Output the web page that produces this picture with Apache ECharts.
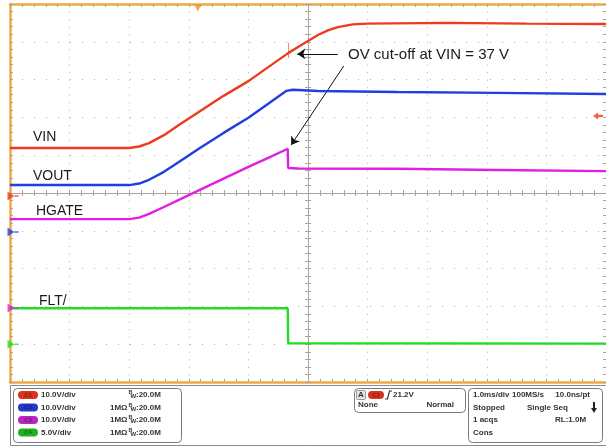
<!DOCTYPE html>
<html><head><meta charset="utf-8">
<script src="https://cdn.jsdelivr.net/npm/echarts@6/dist/echarts.min.js"></script>
<style>html,body{margin:0;padding:0;background:#fff;}#c{width:606px;height:448px;}</style>
</head><body><div id="c"></div>
<script>
// ---- Channel settings (scope readout) ----
const channelNames = ['VIN', 'VOUT', 'HGATE', 'FLT/'];
const voltsPerDiv = [10, 10, 10, 5];
const groundDiv = [-0.08, -1.03, -3.04, -4.0];   // ground markers, divisions from centre

// ---- Traces: time in ms (1.0 ms/div, 0 = screen centre), values in volts ----
const vinTime  = [-5, -3, -2.833, -2.667, -2.417, -2.167, -1.833, -1.417, -1.0, -0.667, -0.333, -0.167, 0, 0.167, 0.333, 0.5, 0.75, 1.0, 2.333, 3.667, 5];
const vinVolts = [12.7, 12.7, 13.1, 14.0, 16.1, 18.8, 22.2, 26.5, 30.4, 34.1, 37.8, 39.4, 41.0, 42.6, 43.8, 44.7, 45.4, 45.6, 45.8, 45.6, 45.5];

const voutTime  = [-5, -3, -2.833, -2.667, -2.417, -2.167, -1.833, -1.417, -1.0, -0.667, -0.367, -0.25, 0.167, 1.5, 3.167, 5];
const voutVolts = [12.4, 12.4, 12.8, 13.8, 15.9, 18.5, 22.0, 26.2, 30.2, 33.9, 37.3, 37.6, 37.3, 37.0, 36.8, 36.5];

const hgateTime  = [-5, -3, -2.833, -2.667, -2.417, -2.167, -1.833, -1.417, -1.0, -0.667, -0.34, -0.333, -0.167, 1.5, 3.167, 5];
const hgateVolts = [23.5, 23.5, 23.9, 24.9, 26.7, 28.6, 31.1, 34.2, 37.3, 39.7, 42.1, 37.0, 36.9, 36.8, 36.5, 36.2];

const fltTime  = [-5, -0.34, -0.333, 5];
const fltVolts = [4.76, 4.76, 0.13, 0.07];

// ---- Trigger ----
const triggerTime = -1.85;     // ms
const triggerLevel = 21.2;     // V on CH1

// ---- Annotation (ms, divisions) ----
const arrowH = [[0.5, 3.68], [-0.18, 3.68]];
const arrowD = [[0.6, 3.36], [-0.283, 1.27]];
const cutoffTick = [[-0.325, 3.97], [-0.325, 3.57]];

const colors = ['#ee3b1f', '#1f3fe0', '#e020e0', '#22dd22'];
const toDiv = (v, ch) => v / voltsPerDiv[ch] + groundDiv[ch];
const trace = (t, v, ch) => t.map((x, i) => [x, +toDiv(v[i], ch).toFixed(4)]);

const chart = echarts.init(document.getElementById('c'), null, {renderer: 'canvas', width: 606, height: 448});

const tickColor = '#aaa49a';
const borderColor = '#f0a844';
const gridDot = '#b8b3ac';
function axis(pos, onZero, zeroIdx, inside, lineStyle, split) {
  const a = {
    type: 'value', min: -5, max: 5, interval: 1, position: pos,
    axisLine: {show: true, onZero: onZero, lineStyle: lineStyle},
    axisTick: {show: true, inside: inside, length: 3, lineStyle: {color: tickColor, width: 1}},
    minorTick: {show: true, splitNumber: 5, length: 3, lineStyle: {color: tickColor, width: 1}},
    axisLabel: {show: false},
    splitLine: {show: false},
    minorSplitLine: {show: false},
    silent: true
  };
  if (onZero) a.axisLine.onZeroAxisIndex = zeroIdx;
  if (split) a.splitLine = {show: true, lineStyle: {color: gridDot, width: 1, type: split, cap: 'butt'}};
  return a;
}
const centreLine = {color: tickColor, width: 1};
const borderLine = {color: borderColor, width: 2.5};
const noLine = {color: 'rgba(0,0,0,0)', width: 0};

const xAxes = [
  axis('bottom', true, 0, false, centreLine, [1, 6.56]),
  axis('top', true, 1, false, centreLine, null),
  axis('top', false, 0, true, borderLine, null),
  axis('bottom', false, 0, true, borderLine, null)
];
const yAxes = [
  axis('left', true, 0, false, centreLine, [1, 11]),
  axis('right', true, 1, false, centreLine, null),
  axis('left', false, 0, true, borderLine, null),
  axis('right', false, 0, true, noLine, null)
];

function lineSeries(name, data, color, extra) {
  return Object.assign({
    type: 'line', name: name, data: data, showSymbol: false, symbol: 'none',
    color: color, lineStyle: {width: 2.4, color: color}, z: 5, silent: true, animation: false
  }, extra || {});
}

const arrowLine = {color: '#111', width: 1, type: 'solid'};
const series = [
  lineSeries('VIN', trace(vinTime, vinVolts, 0), colors[0], {
    markLine: {
      silent: true, animation: false, symbol: ['none', 'arrow'], symbolSize: 8,
      label: {show: false}, lineStyle: arrowLine,
      data: [
        [{coord: arrowH[0]}, {coord: arrowH[1]}],
        [{coord: arrowD[0]}, {coord: arrowD[1]}],
        [{coord: cutoffTick[0], symbol: 'none', lineStyle: {color: '#f08a70', width: 1}},
         {coord: cutoffTick[1], symbol: 'none'}]
      ]
    }
  }),
  lineSeries('VOUT', trace(voutTime, voutVolts, 1), colors[1]),
  lineSeries('HGATE', trace(hgateTime, hgateVolts, 2), colors[2]),
  lineSeries('FLT/', trace(fltTime, fltVolts, 3), colors[3]),
  {
    type: 'scatter', silent: true, animation: false, clip: false, z: 8,
    symbol: 'path://M0,0 L7,4.5 L0,9 Z M7,3.8 L11,3.8 L11,5.2 L7,5.2 Z',
    symbolSize: [11, 9], symbolOffset: [3, 0],
    data: groundDiv.map((d, i) => ({value: [-5, d], itemStyle: {color: colors[i]}}))
  },
  {
    type: 'scatter', silent: true, animation: false, clip: false, z: 8,
    symbol: 'path://M0,0 L10,0 L5,8 Z', symbolSize: [7, 7], symbolOffset: [0, 4],
    itemStyle: {color: '#f39019'},
    data: [[triggerTime, 5]]
  },
  {
    type: 'scatter', silent: true, animation: false, clip: false, z: 8,
    symbol: 'path://M0,5 L6,0 L6,3.5 L12,3.5 L12,6.5 L6,6.5 L6,10 Z', symbolSize: [10, 7], symbolOffset: [-8, 0],
    itemStyle: {color: colors[0]},
    data: [[5, +toDiv(triggerLevel, 0).toFixed(3)]]
  }
];

// ---- Graphic: labels and readout panel ----
const F = '"Liberation Sans", Arial, sans-serif';
const pf = 'bold 8px ' + F;
const G = [];
function txt(s, x, y, opt) {
  G.push({type: 'text', x: x, y: y, z: 100, silent: true,
    style: Object.assign({text: s, font: pf, fill: '#333', textAlign: 'left', textVerticalAlign: 'middle'}, opt || {})});
}
function rrect(x, y, w, h, r, stroke, fill, lw) {
  G.push({type: 'rect', z: 90, silent: true, shape: {x: x, y: y, width: w, height: h, r: r},
    style: {stroke: stroke || 'none', fill: fill || 'none', lineWidth: lw || 1}});
}
const labelFont = '14px ' + F;
txt(channelNames[0], 33, 137, {font: labelFont, fill: '#1a1a1a'});
txt(channelNames[1], 33, 176, {font: labelFont, fill: '#1a1a1a'});
txt(channelNames[2], 36, 211, {font: labelFont, fill: '#1a1a1a'});
txt(channelNames[3], 39, 301, {font: labelFont, fill: '#1a1a1a'});
txt('OV cut-off at VIN = 37 V', 348, 55, {font: '15px ' + F, fill: '#1a1a1a'});

// readout panel
rrect(10.5, 385.5, 605, 60, 0, '#8c8c8c', '#fff', 1);
rrect(13.5, 388.5, 168, 54, 4, '#7a7a7a', 'none', 1);
const badge = ['#d8321c', '#2438c8', '#b828c0', '#22b022'];
const rows = [395, 407.5, 420, 432.5];
const vdiv = voltsPerDiv.map(v => v.toFixed(1) + 'V/div');
rows.forEach((y, i) => {
  rrect(18, y - 4, 20, 8, 4, null, badge[i]);
  txt('C' + (i + 1), 28, y, {font: 'bold 6px ' + F, fill: 'rgba(0,0,0,0.45)', textAlign: 'center'});
  txt(vdiv[i], 41, y);
  if (i > 0) txt('1M\u03A9', 110, y);
  txt('B', 128.5, y - 2.5, {font: 'bold 5.5px ' + F});
  txt('W', 130.5, y + 1.5, {font: 'bold 6px ' + F});
  txt(':20.0M', 136, y);
});
// trigger box
rrect(354.5, 388.5, 111, 24, 4, '#7a7a7a', 'none', 1);
rrect(356.5, 390.5, 9, 9, 1, '#999', '#e4e4e4');
txt('A', 361, 395, {textAlign: 'center'});
rrect(368, 391, 16, 8, 4, null, badge[0]);
txt('C1', 376, 395, {font: 'bold 6px ' + F, fill: 'rgba(0,0,0,0.45)', textAlign: 'center'});
G.push({type: 'polyline', z: 100, silent: true, shape: {points: [[385, 399], [387.5, 399], [389.5, 391], [392, 391]]}, style: {stroke: '#333', lineWidth: 1.2, fill: 'none'}});
txt(triggerLevel.toFixed(1) + 'V', 393, 395);
txt('None', 358, 405);
txt('Normal', 454, 405, {textAlign: 'right'});
// timebase box
rrect(468.5, 388.5, 134, 54, 4, '#7a7a7a', 'none', 1);
txt('1.0ms/div', 473, 395);
txt('100MS/s', 512, 395);
txt('10.0ns/pt', 590, 395, {textAlign: 'right'});
txt('Stopped', 473, 407.5);
txt('Single Seq', 527, 407.5);
G.push({type: 'polygon', z: 100, silent: true, shape: {points: [[593, 402], [595, 402], [595, 408], [597, 408], [594, 413], [591, 408], [593, 408]]}, style: {fill: '#222'}});
txt('1 acqs', 473, 420);
txt('RL:1.0M', 555, 420);
txt('Cons', 473, 432.5);

chart.setOption({
  animation: false,
  backgroundColor: '#ffffff',
  grid: {left: 10, top: 4, width: 600, height: 378, show: false},
  xAxis: xAxes,
  yAxis: yAxes,
  series: series,
  graphic: {elements: G}
});
</script>
</body></html>
